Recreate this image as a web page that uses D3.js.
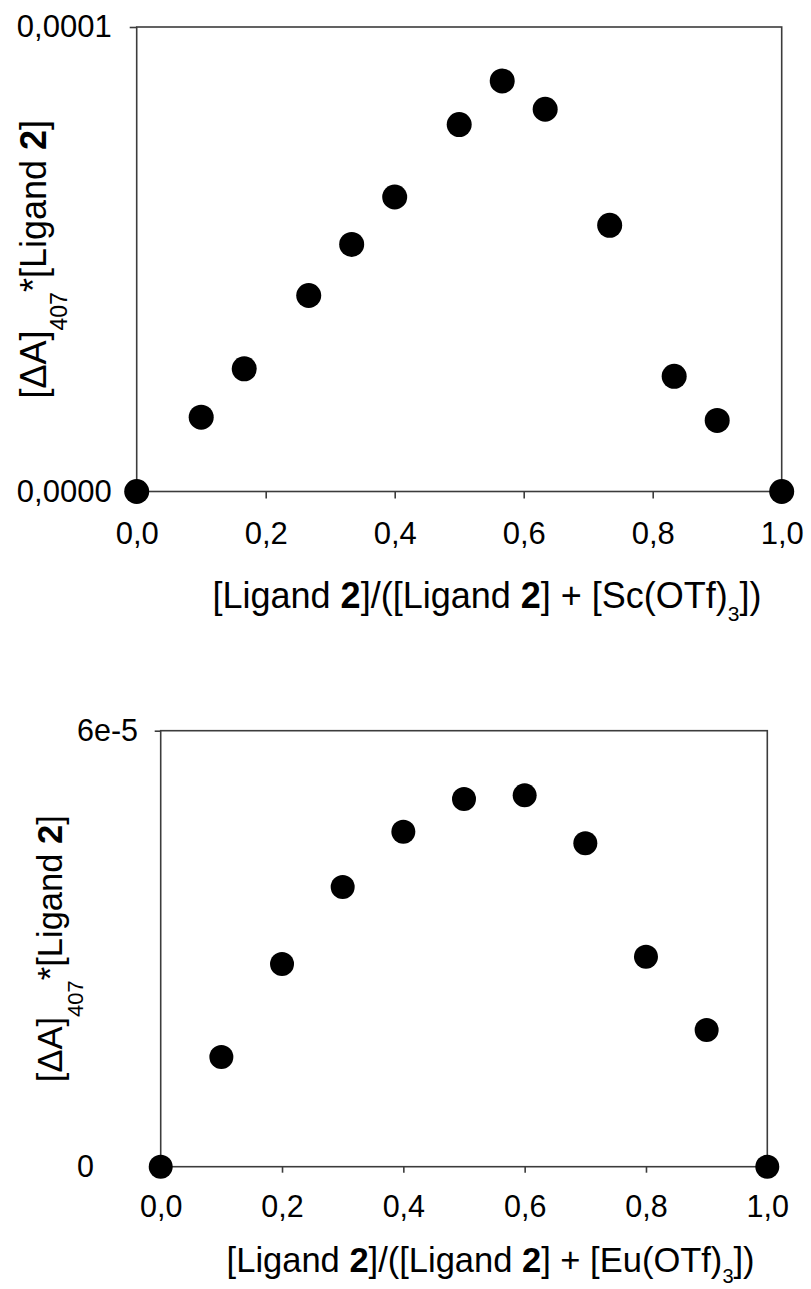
<!DOCTYPE html>
<html>
<head>
<meta charset="utf-8">
<script src="https://cdn.jsdelivr.net/npm/d3@7/dist/d3.min.js"></script>
<style>
  html, body { margin: 0; padding: 0; background: #fff; }
  svg { display: block; }
  text { font-family: "Liberation Sans", Arial, sans-serif; fill: #000; }
</style>
</head>
<body>
<svg id="chart" width="811" height="1289"></svg>
<script>
// ---- Data ----
// Top panel: Ligand 2 + Sc(OTf)3
const scMoleFraction = [0, 0.1, 0.1667, 0.2667, 0.3333, 0.4, 0.5, 0.5667, 0.6333, 0.7333, 0.8333, 0.9, 1.0];
const scSignal = [0, 1.60e-5, 2.64e-5, 4.22e-5, 5.32e-5, 6.34e-5, 7.90e-5, 8.84e-5, 8.23e-5, 5.73e-5, 2.48e-5, 1.53e-5, 0];
const scYTicks = [0, 1e-4];
const scYTickLabels = ["0,0000", "0,0001"];

// Bottom panel: Ligand 2 + Eu(OTf)3
const euMoleFraction = [0, 0.1, 0.2, 0.3, 0.4, 0.5, 0.6, 0.7, 0.8, 0.9, 1.0];
const euSignal = [0, 1.51e-5, 2.79e-5, 3.85e-5, 4.61e-5, 5.06e-5, 5.11e-5, 4.45e-5, 2.89e-5, 1.88e-5, 0];
const euYTicks = [0, 6e-5];
const euYTickLabels = ["0", "6e-5"];

const xTicks = [0, 0.2, 0.4, 0.6, 0.8, 1.0];
const xTickLabels = ["0,0", "0,2", "0,4", "0,6", "0,8", "1,0"];

const metalLabels = ["Sc(OTf)", "Eu(OTf)"];

// ---- Drawing ----
const svg = d3.select("#chart");
const LINE = "#3c3c3c";

function panel(cfg) {
  const g = svg.append("g");
  const x = d3.scaleLinear().domain([0, 1]).range([cfg.left, cfg.right]);
  const y = d3.scaleLinear().domain([0, cfg.yMax]).range([cfg.bottom, cfg.top]);

  // frame
  g.append("rect")
    .attr("x", cfg.left).attr("y", cfg.top)
    .attr("width", cfg.right - cfg.left).attr("height", cfg.bottom - cfg.top)
    .attr("fill", "none").attr("stroke", LINE).attr("stroke-width", 1.6);

  // x axis
  const xa = g.append("g")
    .attr("transform", `translate(0,${cfg.bottom})`)
    .call(d3.axisBottom(x).tickValues(xTicks)
      .tickFormat((d, i) => xTickLabels[i])
      .tickSize(cfg.tick).tickPadding(cfg.xPad).tickSizeOuter(0));
  xa.select(".domain").remove();
  xa.selectAll("line").attr("stroke", LINE).attr("stroke-width", 1.6);
  xa.selectAll("text").style("font-size", cfg.tickFont + "px")
    .style("font-family", '"Liberation Sans", Arial, sans-serif').attr("fill", "#000");

  // y axis
  const ya = g.append("g")
    .attr("transform", `translate(${cfg.left},0)`)
    .call(d3.axisLeft(y).tickValues(cfg.yTicks)
      .tickFormat((d, i) => cfg.yTickLabels[i])
      .tickSize(cfg.tick).tickPadding(cfg.yPad).tickSizeOuter(0));
  ya.select(".domain").remove();
  ya.selectAll("line").attr("stroke", LINE).attr("stroke-width", 1.6);
  ya.selectAll("text").style("font-size", cfg.tickFont + "px")
    .style("font-family", '"Liberation Sans", Arial, sans-serif').attr("fill", "#000");
  if (cfg.yAnchor === "start") {
    ya.selectAll("text").attr("text-anchor", "start").attr("x", cfg.yLabelX - cfg.left);
  }

  // points
  g.selectAll("circle.pt").data(cfg.xs.map((v, i) => [v, cfg.ys[i]]))
    .join("circle").attr("class", "pt")
    .attr("cx", d => x(d[0])).attr("cy", d => y(d[1]))
    .attr("r", cfg.r).attr("fill", "#000");

  // x title
  const xt = g.append("text")
    .attr("x", cfg.xTitleX).attr("y", cfg.xTitleY)
    .attr("text-anchor", "middle")
    .style("font-size", cfg.titleFont + "px");
  xt.append("tspan").text("[Ligand ");
  xt.append("tspan").attr("font-weight", "bold").text("2");
  xt.append("tspan").text("]/([Ligand ");
  xt.append("tspan").attr("font-weight", "bold").text("2");
  xt.append("tspan").text("] + [" + cfg.metal);
  xt.append("tspan").attr("dy", cfg.xSubShift).style("font-size", cfg.xSubFont + "px").text("3");
  xt.append("tspan").attr("dy", -cfg.xSubShift).text("])");

  // y title
  const yt = g.append("text")
    .attr("transform", `translate(${cfg.yTitleX},${(cfg.top + cfg.bottom) / 2}) rotate(-90)`)
    .attr("text-anchor", "middle")
    .style("font-size", cfg.titleFont + "px");
  yt.append("tspan").text("[\u0394A]");
  yt.append("tspan").attr("dy", cfg.ySubShift).style("font-size", cfg.ySubFont + "px").text("407");
  yt.append("tspan").attr("dy", -cfg.ySubShift).text("*[Ligand ");
  yt.append("tspan").attr("font-weight", "bold").text("2");
  yt.append("tspan").text("]");
}

panel({
  left: 136.7, right: 781.7, top: 27, bottom: 491.5,
  yMax: 1e-4, yTicks: scYTicks, yTickLabels: scYTickLabels,
  xs: scMoleFraction, ys: scSignal, r: 12.5,
  tick: 7, xPad: 23, yPad: 18, tickFont: 31,
  yAnchor: "end",
  titleFont: 36, xSubFont: 21, xSubShift: 13, ySubFont: 23, ySubShift: 21,
  xTitleX: 487, xTitleY: 608, yTitleX: 46,
  metal: metalLabels[0]
});

panel({
  left: 160.7, right: 767.3, top: 730.7, bottom: 1166.7,
  yMax: 6e-5, yTicks: euYTicks, yTickLabels: euYTickLabels,
  xs: euMoleFraction, ys: euSignal, r: 12,
  tick: 6, xPad: 23, yPad: 18, tickFont: 30.5,
  yAnchor: "start", yLabelX: 77,
  titleFont: 34.5, xSubFont: 20, xSubShift: 11, ySubFont: 22, ySubShift: 21,
  xTitleX: 490.6, xTitleY: 1272, yTitleX: 62,
  metal: metalLabels[1]
});
</script>
</body>
</html>
